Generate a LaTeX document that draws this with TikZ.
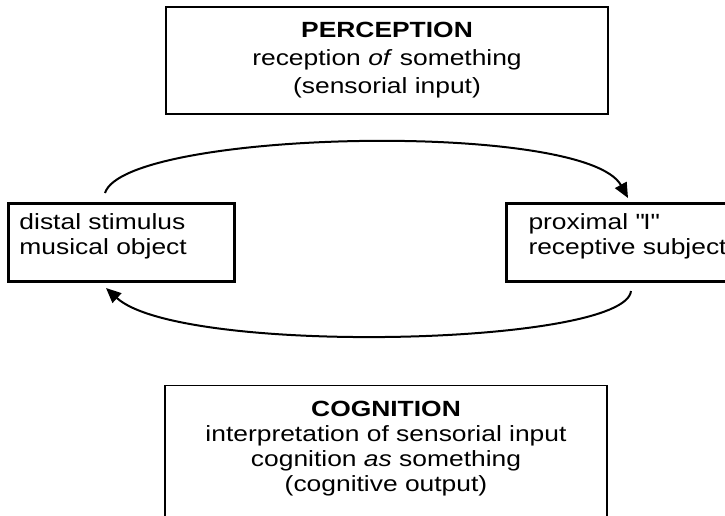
\documentclass[tikz,border=0pt]{standalone}
\usepackage{fontspec}
\setmainfont[FakeStretch=1.2]{Liberation Sans}
\usetikzlibrary{arrows.meta}
\begin{document}
\begin{tikzpicture}[x=1pt,y=-1pt,
  bigbox/.style={draw, line width=1.4pt, rectangle, inner sep=0pt, align=center,
    minimum width=442pt},
  sidebox/.style={draw, line width=3pt, rectangle, inner ysep=0pt, align=left,
    anchor=north west, minimum height=78pt, font=\fontsize{22}{25}\selectfont},
  cycle/.style={line width=2pt, -{Triangle[length=15pt,width=13pt]}}]
\useasboundingbox (0,0) rectangle (725,516);
\clip (0,0) rectangle (725,516);
\fill[white] (0,0) rectangle (725,516);

% upper and lower concept boxes
\node[bigbox, minimum height=107pt, font=\fontsize{22}{28}\selectfont] (perc) at (387,60.5)
  {\textbf{PERCEPTION}\\reception \textit{of} something\\(sensorial input)};
\node[bigbox, anchor=north, minimum height=132pt, font=\fontsize{22}{25}\selectfont] (cogn) at (386,385)
  {\textbf{COGNITION}\\interpretation of sensorial input\\cognition \textit{as} something\\(cognitive output)\\[-14pt]\mbox{}};

% object and subject boxes
\node[sidebox, inner xsep=11pt, text width=204pt] (obj) at (7,202)
  {distal stimulus\\musical object\\[-9pt]\mbox{}};
\node[sidebox, inner xsep=22pt, text width=220pt] (subj) at (505,202)
  {proximal \textquotedbl I\textquotedbl\\receptive subject\\[-9pt]\mbox{}};

% the perception/cognition loop
\draw[cycle] ([xshift=98pt,yshift=9pt]obj.north west)
  .. controls +(20,-63) and +(-43,-78) .. ([xshift=123pt,yshift=4pt]subj.north west);
\draw[cycle] ([xshift=126pt,yshift=-8pt]subj.south west)
  .. controls +(-6,55) and +(74,68) .. ([xshift=99pt,yshift=-5pt]obj.south west);
\end{tikzpicture}
\end{document}
